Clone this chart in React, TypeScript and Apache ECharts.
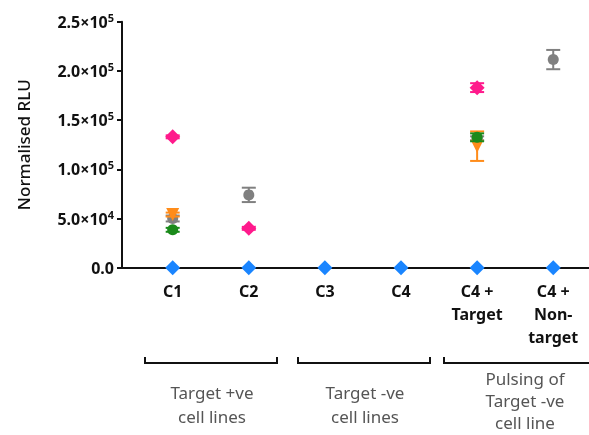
import React, { useEffect, useRef } from "react";
import * as echarts from "echarts";

const categories = ["C1", "C2", "C3", "C4", "C4 +\nTarget", "C4 +\nNon-\ntarget"];
const xPos = [1, 2, 3, 4, 5, 6];

const blueVals = [0, 0, 0, 0, 0, 0];
const magentaVals = [133000, 40000, null, null, 183000, null];
const magentaErr = [1500, 1500, 0, 0, 4500, 0];
const greyVals = [50000, 74000, null, null, 131500, 211500];
const greyErr = [3000, 7300, 0, 0, 2000, 9800];
const orangeVals = [54000, null, null, null, 123500, null];
const orangeErr = [2000, 0, 0, 0, 15000, 0];
const greenVals = [38500, null, null, null, 132500, null];
const greenErr = [2000, 0, 0, 0, 4000, 0];

const groupLabels = ["Target +ve\ncell lines", "Target -ve\ncell lines", "Pulsing of\nTarget -ve\ncell line"];

const FONT = "Noto Sans";

function errSeries(vals: (number | null)[], errs: number[], color: string, z: number) {
  return {
    type: "custom",
    z,
    renderItem: (params: any, api: any) => {
      const x = api.value(0);
      const lo = api.coord([x, api.value(1)]);
      const hi = api.coord([x, api.value(2)]);
      const w = 7;
      const style = { stroke: color, lineWidth: 2 };
      return {
        type: "group",
        children: [
          { type: "line", shape: { x1: lo[0], y1: lo[1], x2: hi[0], y2: hi[1] }, style },
          { type: "line", shape: { x1: lo[0] - w, y1: lo[1], x2: lo[0] + w, y2: lo[1] }, style },
          { type: "line", shape: { x1: hi[0] - w, y1: hi[1], x2: hi[0] + w, y2: hi[1] }, style },
        ],
      };
    },
    data: vals
      .map((v, i) => (v == null || errs[i] <= 0 ? null : [xPos[i], v - errs[i], v + errs[i]]))
      .filter((d) => d !== null),
    silent: true,
  };
}

function scatter(vals: (number | null)[], color: string, symbol: string, size: number, z: number, rotate = 0) {
  return {
    type: "scatter",
    z,
    symbol,
    symbolSize: size,
    symbolRotate: rotate,
    itemStyle: { color, opacity: 1 },
    data: vals.map((v, i) => (v == null ? null : [xPos[i], v])).filter((d) => d !== null),
  };
}

function fmtY(v: number) {
  if (v === 0) return "{a|0.0}";
  const e = Math.floor(Math.log10(v) + 1e-9);
  const m = v / Math.pow(10, e);
  return `{a|${m.toFixed(1)}×10}{s|${e}}`;
}

export default function App() {
  const ref = useRef<HTMLDivElement>(null);
  useEffect(() => {
    if (!ref.current) return;
    const chart = echarts.init(ref.current, null, { renderer: "svg" });
    const brackets = [
      [145, 277],
      [298, 430],
      [444, 600],
    ];
    const labelX = [212, 365, 525];
    chart.setOption({
      animation: false,
      grid: { left: 122, right: 0, top: 21.7, bottom: 167.3, containLabel: false },
      xAxis: {
        type: "value",
        min: 0.334,
        max: 6.47,
        axisLine: { show: true, onZero: false, lineStyle: { color: "#111", width: 2 } },
        axisTick: { show: false },
        splitLine: { show: false },
        axisLabel: {
          customValues: xPos,
          formatter: (v: number) => categories[Math.round(v) - 1] || "",
          color: "#111",
          fontFamily: FONT,
          fontWeight: "bold",
          fontSize: 16,
          lineHeight: 23,
          margin: 12,
          align: "center",
          verticalAlign: "top",
        },
      },
      yAxis: {
        type: "value",
        min: 0,
        max: 250000,
        interval: 50000,
        name: "Normalised RLU",
        nameLocation: "middle",
        nameGap: 90,
        nameTextStyle: { fontFamily: FONT, fontSize: 17, fontWeight: 500, color: "#111" },
        axisLine: { show: true, lineStyle: { color: "#111", width: 2 } },
        axisTick: { show: true, length: 5, lineStyle: { color: "#111", width: 2 } },
        splitLine: { show: false },
        axisLabel: {
          formatter: fmtY,
          margin: 8,
          rich: {
            a: { fontFamily: FONT, fontWeight: "bold", fontSize: 16, color: "#111" },
            s: { fontFamily: FONT, fontWeight: "bold", fontSize: 11, color: "#111", verticalAlign: "top", padding: [0, 0, 9, 0] },
          },
        },
      },
      graphic: [
        ...brackets.map((b) => ({
          type: "polyline",
          shape: { points: [[b[0], 357], [b[0], 363], [b[1], 363], [b[1], 357]] },
          style: { stroke: "#111", lineWidth: 2, fill: null },
        })),
        ...groupLabels.map((t, i) => ({
          type: "text",
          x: labelX[i],
          y: i === 2 ? 367 : 380,
          style: {
            text: t,
            fontFamily: FONT,
            fontSize: 17,
            lineHeight: i === 2 ? 22 : 24,
            fill: "#555",
            align: "center",
            verticalAlign: "top",
          },
        })),
      ],
      series: [
        errSeries(greyVals, greyErr, "#808080", 2),
        scatter(greyVals, "#808080", "circle", 11, 3),
        errSeries(orangeVals, orangeErr, "#ff8c1a", 4),
        scatter(orangeVals, "#ff8c1a", "triangle", 13, 5, 180),
        errSeries(greenVals, greenErr, "#1a8a1a", 6),
        scatter(greenVals, "#1a8a1a", "circle", 11, 7),
        errSeries(magentaVals, magentaErr, "#ff1a8c", 8),
        scatter(magentaVals, "#ff1a8c", "diamond", 15, 9),
        scatter(blueVals, "#1a85ff", "diamond", 15, 10),
      ],
    });
    return () => chart.dispose();
  }, []);
  return <div ref={ref} style={{ position: "fixed", left: 0, top: 0, width: 589, height: 435 }} />;
}
